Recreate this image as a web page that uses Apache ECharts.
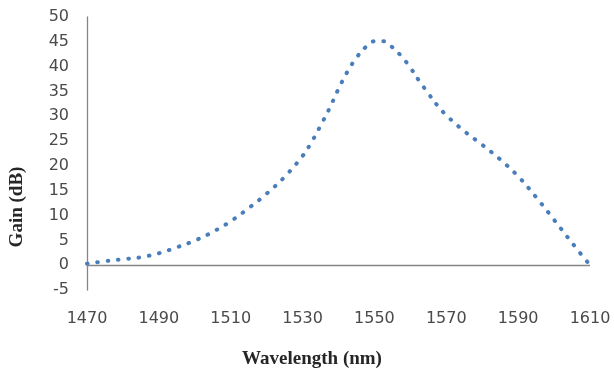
<!DOCTYPE html>
<html>
<head>
<meta charset="utf-8">
<script src="https://cdn.jsdelivr.net/npm/echarts@6/dist/echarts.min.js"></script>
<style>
html,body{margin:0;padding:0;background:#fff;}
#chart{width:614px;height:371px;}
</style>
</head>
<body>
<div id="chart"></div>
<script>
// Wavelength (nm)
const wavelength = [1470, 1475, 1480, 1485, 1490, 1495, 1500, 1505, 1510, 1515, 1520, 1525, 1530, 1532.5, 1535, 1537.5, 1540, 1542.5, 1545, 1547.5, 1550, 1552.5, 1555, 1557.5, 1560, 1562.5, 1565, 1567.5, 1570, 1575, 1580, 1585, 1590, 1595, 1600, 1605, 1610];
// Gain (dB)
const gain = [0.3, 0.8, 1.2, 1.6, 2.4, 3.6, 4.95, 6.7, 8.85, 11.5, 14.4, 17.8, 22.0, 24.8, 28.1, 31.6, 35.5, 39.0, 41.8, 43.9, 45.1, 45.1, 43.9, 42.1, 39.8, 37.1, 34.6, 32.2, 30.2, 27.0, 24.25, 21.3, 17.9, 13.7, 9.15, 4.5, 0];
const xTicks = [1470, 1490, 1510, 1530, 1550, 1570, 1590, 1610];
const yTicks = [-5, 0, 5, 10, 15, 20, 25, 30, 35, 40, 45, 50];

const chart = echarts.init(document.getElementById('chart'), null, {renderer: 'canvas'});
const labelFont = {fontFamily: 'DejaVu Sans', fontSize: 16, color: '#4a4a4a'};
chart.setOption({
  animation: false,
  backgroundColor: '#ffffff',
  grid: {left: 87, right: 24, top: 17, bottom: 81},
  xAxis: {
    type: 'value',
    min: xTicks[0],
    max: xTicks[xTicks.length - 1],
    interval: 10,
    axisLine: {show: false, onZero: false},
    axisTick: {show: false},
    splitLine: {show: false},
    axisLabel: Object.assign({
      margin: 21,
      formatter: v => xTicks.indexOf(v) >= 0 ? String(v) : ''
    }, labelFont)
  },
  yAxis: {
    type: 'value',
    min: yTicks[0],
    max: yTicks[yTicks.length - 1],
    interval: 5,
    axisLine: {show: true, lineStyle: {color: '#868686', width: 1.3}},
    axisTick: {show: false},
    splitLine: {show: false},
    axisLabel: Object.assign({margin: 18}, labelFont)
  },
  graphic: [
    {type: 'text', x: 312, y: 359, style: {text: 'Wavelength (nm)', font: 'bold 19px "Liberation Serif"', fill: '#262626', align: 'center', verticalAlign: 'middle'}},
    {type: 'text', x: 17.5, y: 207, rotation: Math.PI / 2, style: {text: 'Gain (dB)', font: 'bold 19px "Liberation Serif"', fill: '#262626', align: 'center', verticalAlign: 'middle'}}
  ],
  series: [{
    type: 'line',
    data: wavelength.map((w, i) => [w, gain[i]]),
    smooth: 0.4,
    showSymbol: false,
    symbol: 'none',
    lineStyle: {color: '#4A7EBB', width: 4, type: [0.6, 9.8], cap: 'round'},
    markLine: {
      silent: true,
      symbol: 'none',
      label: {show: false},
      lineStyle: {color: '#868686', type: 'solid', width: 1.3},
      data: [{yAxis: 0}]
    }
  }]
});
</script>
</body>
</html>
